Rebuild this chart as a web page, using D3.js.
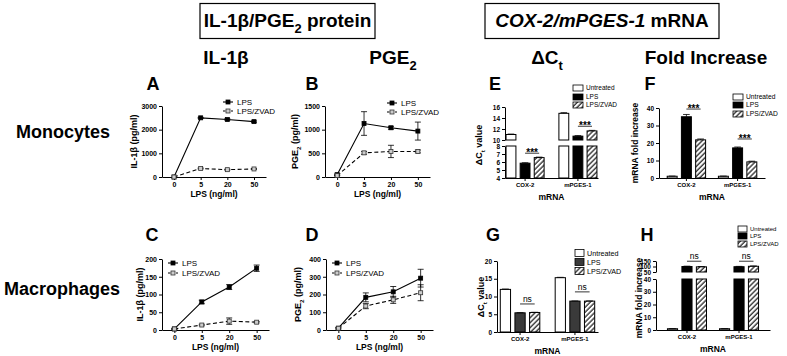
<!DOCTYPE html>
<html>
<head>
<meta charset="utf-8">
<script src="https://cdn.jsdelivr.net/npm/d3@7"></script>
<style>
body { margin: 0; background: #fff; }
text { font-family: Arial, "Liberation Sans", sans-serif; }
</style>
</head>
<body>
<svg id="fig" width="787" height="356"></svg>
<script>
// ---- data ----
var doses = ["0", "5", "20", "50"];
var lineLegend = ["LPS", "LPS/ZVAD"];

var aLps = [0, 2500, 2430, 2340], aLpsErr = [0, 20, 30, 30];
var aZvad = [0, 360, 310, 340], aZvadErr = [0, 20, 20, 20];
var bLps = [50, 1130, 1040, 970], bLpsErr = [10, 250, 30, 190];
var bZvad = [30, 510, 540, 540], bZvadErr = [5, 30, 130, 30];
var cLps = [3, 79, 121, 174], cLpsErr = [2, 5, 7, 9];
var cZvad = [3, 14, 25, 22], cZvadErr = [1, 2, 9, 2];
var dLps = [10, 184, 215, 292], dLpsErr = [5, 25, 30, 50];
var dZvad = [10, 135, 170, 210], dZvadErr = [3, 15, 20, 45];

var genes = ["COX-2", "mPGES-1"];
var treatments = ["Untreated", "LPS", "LPS/ZVAD"];
var eVals = [[11.0, 5.85, 6.55], [14.85, 10.7, 11.65]];
var eErr = [[0.08, 0.06, 0.06], [0.12, 0.1, 0.1]];
var fVals = [[1, 35, 21.8], [1, 17.2, 9.2]];
var fErr = [[0.1, 1.3, 0.5], [0.1, 0.5, 0.4]];
var gVals = [[12.0, 5.4, 5.5], [15.3, 8.7, 8.7]];
var gErr = [[0.1, 0.05, 0.05], [0.1, 0.05, 0.05]];
var hVals = [[1, 100, 97], [1, 98, 102]];
var hErr = [[0.1, 3, 3], [0.1, 3, 3]];

var eSig = [{ gene: "COX-2", y: 7.1, label: "***" }, { gene: "mPGES-1", y: 12.5, label: "***" }];
var fSig = [{ gene: "COX-2", y: 39.4, label: "***" }, { gene: "mPGES-1", y: 22.3, label: "***" }];
var gSig = [{ gene: "COX-2", y: 7.9, label: "ns" }, { gene: "mPGES-1", y: 11.3, label: "ns" }];
var hSig = [{ gene: "COX-2", y: 148, label: "ns" }, { gene: "mPGES-1", y: 148, label: "ns" }];

var svg = d3.select("#fig");
var fmt = d3.format("d");

// hatch for LPS/ZVAD bars
var pat = svg.append("defs").append("pattern")
    .attr("id", "hatch")
    .attr("patternUnits", "userSpaceOnUse")
    .attr("width", 3.5).attr("height", 3.5)
    .attr("patternTransform", "rotate(45)");
pat.append("rect").attr("width", 3.5).attr("height", 3.5).attr("fill", "#fff");
pat.append("line").attr("x1", 1).attr("y1", 0).attr("x2", 1).attr("y2", 3.5)
    .attr("stroke", "#000").attr("stroke-width", 1.1);

// text with subscripts / italics
function rich(t, parts, size) {
    var shift = 0;
    parts.forEach(function (p) {
        var want = p.sub ? size * 0.3 : 0;
        var ts = t.append("tspan").text(p.t).attr("dy", want - shift);
        shift = want;
        if (p.sub) ts.attr("font-size", size * 0.68);
        if (p.it) ts.attr("font-style", "italic");
    });
    return t;
}

function label(x, y, size, weight, anchor) {
    return svg.append("text")
        .attr("x", x).attr("y", y)
        .attr("font-size", size)
        .attr("font-weight", weight || "bold")
        .attr("text-anchor", anchor || "middle");
}

function vLabel(x, y, size, parts) {
    var t = svg.append("text")
        .attr("transform", "translate(" + x + "," + y + ") rotate(-90)")
        .attr("font-size", size).attr("font-weight", "bold")
        .attr("text-anchor", "middle");
    rich(t, parts, size);
}

function styleAxis(g, size) {
    g.attr("font-family", null).attr("font-size", size);
    g.selectAll("text").attr("font-weight", "bold").attr("fill", "#000");
    g.selectAll("path, line").attr("stroke", "#000").attr("stroke-width", 1);
}

// ---- headers ----
svg.append("rect").attr("x", 200).attr("y", 3.5).attr("width", 175).attr("height", 35)
    .attr("fill", "none").attr("stroke", "#000").attr("stroke-width", 1.2);
rich(label(287.5, 27, 19), [{ t: "IL-1β/PGE" }, { t: "2", sub: true }, { t: " protein" }], 19);

svg.append("rect").attr("x", 485).attr("y", 3.5).attr("width", 234).attr("height", 35)
    .attr("fill", "none").attr("stroke", "#000").attr("stroke-width", 1.2);
rich(label(602, 27, 19), [{ t: "COX-2/mPGES-1", it: true }, { t: " mRNA" }], 19);

label(226, 64, 19).text("IL-1β");
rich(label(393, 64, 19), [{ t: "PGE" }, { t: "2", sub: true }], 19);
rich(label(547, 64, 19), [{ t: "ΔC" }, { t: "t", sub: true }], 19);
label(706, 64, 19).text("Fold Increase");

label(63, 138, 18).text("Monocytes");
label(62, 295, 18).text("Macrophages");

[["A", 153, 90], ["B", 312, 90], ["E", 495, 90], ["F", 650, 90],
 ["C", 152, 241], ["D", 312, 241], ["G", 493, 241], ["H", 647, 241]].forEach(function (l) {
    label(l[1], l[2], 18).text(l[0]);
});

// ---- line panels ----
function linePanel(o) {
    var x = d3.scalePoint().domain(doses).range([o.left, o.right]).padding(0.45);
    var y = d3.scaleLinear().domain([0, o.yMax]).range([o.bottom, o.top]);

    svg.append("g").attr("transform", "translate(0," + o.bottom + ")")
        .call(d3.axisBottom(x).tickSize(3).tickPadding(2).tickSizeOuter(0))
        .call(styleAxis, 7);
    svg.append("g").attr("transform", "translate(" + o.left + ",0)")
        .call(d3.axisLeft(y).tickValues(o.ticks).tickFormat(fmt).tickSize(3).tickPadding(2).tickSizeOuter(0))
        .call(styleAxis, 7);

    label((o.left + o.right) / 2, o.bottom + 20, 8.5).text("LPS (ng/ml)");
    vLabel(o.yLabelX, (o.top + o.bottom) / 2, 9, o.yLabel);

    var line = d3.line().x(function (d, i) { return x(doses[i]); }).y(function (d) { return y(d); });

    o.series.forEach(function (s, k) {
        var g = svg.append("g");
        // error bars
        s.vals.forEach(function (v, i) {
            if (!s.errs[i]) return;
            var cx = x(doses[i]), y1 = y(v - s.errs[i]), y2 = y(v + s.errs[i]);
            g.append("line").attr("x1", cx).attr("x2", cx).attr("y1", y1).attr("y2", y2)
                .attr("stroke", "#000").attr("stroke-width", 0.8);
            [y1, y2].forEach(function (yy) {
                g.append("line").attr("x1", cx - 3).attr("x2", cx + 3).attr("y1", yy).attr("y2", yy)
                    .attr("stroke", "#000").attr("stroke-width", 0.8);
            });
        });
        g.append("path").datum(s.vals).attr("d", line)
            .attr("fill", "none").attr("stroke", "#000").attr("stroke-width", 1.1)
            .attr("stroke-dasharray", k ? "4,2.5" : null);
        g.selectAll("rect").data(s.vals).enter().append("rect")
            .attr("x", function (d, i) { return x(doses[i]) - 2; })
            .attr("y", function (d) { return y(d) - 2; })
            .attr("width", 4).attr("height", 4)
            .attr("fill", k ? "#ccc" : "#000")
            .attr("stroke", k ? "#333" : "#000").attr("stroke-width", 0.8);

        // legend row
        var ly = o.legY[k];
        svg.append("line").attr("x1", o.legX).attr("x2", o.legX + 10).attr("y1", ly).attr("y2", ly)
            .attr("stroke", "#000").attr("stroke-width", 1.1).attr("stroke-dasharray", k ? "2.5,1.5" : null);
        svg.append("rect").attr("x", o.legX + 3).attr("y", ly - 2).attr("width", 4).attr("height", 4)
            .attr("fill", k ? "#ccc" : "#000").attr("stroke", k ? "#333" : "#000").attr("stroke-width", 0.8);
        label(o.legX + 14, ly + 3, 8, "normal", "start").text(lineLegend[k]);
    });
}

var il1bLabel = [{ t: "IL-1β (pg/ml)" }];
var pgeLabel = [{ t: "PGE" }, { t: "2", sub: true }, { t: " (pg/ml)" }];

linePanel({ left: 162, right: 266, top: 106, bottom: 177, yMax: 3000, ticks: [0, 1000, 2000, 3000],
    yLabel: il1bLabel, yLabelX: 137, legX: 223, legY: [102, 111],
    series: [{ vals: aLps, errs: aLpsErr }, { vals: aZvad, errs: aZvadErr }] });
linePanel({ left: 325, right: 430, top: 106, bottom: 177, yMax: 1500, ticks: [0, 500, 1000, 1500],
    yLabel: pgeLabel, yLabelX: 298, legX: 387, legY: [103, 112],
    series: [{ vals: bLps, errs: bLpsErr }, { vals: bZvad, errs: bZvadErr }] });
linePanel({ left: 162, right: 269, top: 259, bottom: 330, yMax: 200, ticks: [0, 50, 100, 150, 200],
    yLabel: il1bLabel, yLabelX: 143, legX: 168, legY: [263, 273],
    series: [{ vals: cLps, errs: cLpsErr }, { vals: cZvad, errs: cZvadErr }] });
linePanel({ left: 326, right: 433, top: 259, bottom: 330, yMax: 400, ticks: [0, 100, 200, 300, 400],
    yLabel: pgeLabel, yLabelX: 301, legX: 332, legY: [263, 273],
    series: [{ vals: dLps, errs: dLpsErr }, { vals: dZvad, errs: dZvadErr }] });

// ---- bar panels (optionally with a broken y axis) ----
function barPanel(o) {
    var x0 = d3.scaleBand().domain(genes).range([o.left, o.right])
        .paddingInner(o.padIn).paddingOuter(o.padOut);
    var x1 = d3.scaleBand().domain(treatments).range([0, x0.bandwidth()]).paddingInner(0.3);
    var yLo = d3.scaleLinear().domain(o.lo).range(o.loRange);
    var yHi = o.hi ? d3.scaleLinear().domain(o.hi).range(o.hiRange) : null;
    function yv(v) { return (yHi && v > o.lo[1]) ? yHi(v) : yLo(v); }
    var fills = ["#fff", o.lpsFill, "url(#hatch)"];

    svg.append("g").attr("transform", "translate(0," + o.loRange[0] + ")")
        .call(d3.axisBottom(x0).tickSize(3).tickPadding(2).tickSizeOuter(0))
        .call(styleAxis, 6);
    svg.append("g").attr("transform", "translate(" + o.left + ",0)")
        .call(d3.axisLeft(yLo).tickValues(o.loTicks).tickFormat(fmt).tickSize(3).tickPadding(2).tickSizeOuter(0))
        .call(styleAxis, 6.5);
    if (yHi) {
        svg.append("g").attr("transform", "translate(" + o.left + ",0)")
            .call(d3.axisLeft(yHi).tickValues(o.hiTicks).tickFormat(fmt).tickSize(3).tickPadding(2).tickSizeOuter(0))
            .call(styleAxis, 6.5);
    }

    o.vals.forEach(function (row, i) {
        row.forEach(function (v, j) {
            var bx = x0(genes[i]) + x1(treatments[j]), bw = x1.bandwidth();
            var lowTop = yLo(Math.min(v, o.lo[1]));
            svg.append("rect").attr("x", bx).attr("y", lowTop)
                .attr("width", bw).attr("height", o.loRange[0] - lowTop)
                .attr("fill", fills[j]).attr("stroke", "#000").attr("stroke-width", 1);
            if (yHi && v > o.hi[0]) {
                svg.append("rect").attr("x", bx).attr("y", yHi(v))
                    .attr("width", bw).attr("height", yHi(o.hi[0]) - yHi(v))
                    .attr("fill", fills[j]).attr("stroke", "#000").attr("stroke-width", 1);
            }
            var e = o.errs[i][j], cx = bx + bw / 2, ye = yv(v + e);
            svg.append("line").attr("x1", cx).attr("x2", cx).attr("y1", yv(v)).attr("y2", ye)
                .attr("stroke", "#000").attr("stroke-width", 0.8);
            svg.append("line").attr("x1", cx - bw / 3).attr("x2", cx + bw / 3).attr("y1", ye).attr("y2", ye)
                .attr("stroke", "#000").attr("stroke-width", 0.8);
        });
    });

    o.sig.forEach(function (s) {
        var xa = x0(s.gene) + x1("LPS") + x1.bandwidth() / 2;
        var xb = x0(s.gene) + x1("LPS/ZVAD") + x1.bandwidth() / 2;
        var sy = yv(s.y);
        svg.append("line").attr("x1", xa).attr("x2", xb).attr("y1", sy).attr("y2", sy)
            .attr("stroke", "#000").attr("stroke-width", 0.8);
        if (s.label === "***") {
            label((xa + xb) / 2, sy + 3, 10).text(s.label);
        } else {
            label((xa + xb) / 2, sy - 2, 8.5, "normal").text(s.label);
        }
    });

    treatments.forEach(function (t, j) {
        var ly = o.legY[j];
        svg.append("rect").attr("x", o.legX).attr("y", ly - o.legBox[1] / 2)
            .attr("width", o.legBox[0]).attr("height", o.legBox[1])
            .attr("fill", fills[j]).attr("stroke", "#000").attr("stroke-width", 0.8);
        label(o.legX + o.legBox[0] + 3, ly + o.legFont * 0.35, o.legFont, "normal", "start").text(t);
    });

    label((o.left + o.right) / 2, o.loRange[0] + 22, 8.5).text("mRNA");
    vLabel(o.yLabelX, o.yLabelY, o.yLabelSize, o.yLabel);
}

var dctLabel = [{ t: "ΔC" }, { t: "t", sub: true }, { t: " value" }];
var foldLabel = [{ t: "mRNA fold increase" }];

barPanel({ left: 505, right: 598, padIn: 0.28, padOut: 0.02,
    lo: [4, 8], loRange: [178, 146], hi: [10, 16], hiRange: [140, 107],
    loTicks: [4, 5, 6, 7, 8], hiTicks: [10, 12, 14, 16],
    vals: eVals, errs: eErr, sig: eSig, lpsFill: "#000",
    legX: 573, legY: [88, 97, 105], legBox: [10, 6], legFont: 6.5,
    yLabel: dctLabel, yLabelX: 482, yLabelY: 145, yLabelSize: 9 });
barPanel({ left: 659, right: 765, padIn: 0.25, padOut: 0.16,
    lo: [0, 40], loRange: [178, 108], loTicks: [0, 10, 20, 30, 40],
    vals: fVals, errs: fErr, sig: fSig, lpsFill: "#000",
    legX: 733, legY: [97, 105, 114], legBox: [10, 6], legFont: 6.7,
    yLabel: foldLabel, yLabelX: 638, yLabelY: 143, yLabelSize: 8.5 });
barPanel({ left: 497, right: 598, padIn: 0.28, padOut: 0.06,
    lo: [0, 20], loRange: [332, 261], loTicks: [0, 5, 10, 15, 20],
    vals: gVals, errs: gErr, sig: gSig, lpsFill: "#3a3a3a",
    legX: 575, legY: [253, 262, 271], legBox: [9, 7], legFont: 7.2,
    yLabel: dctLabel, yLabelX: 484, yLabelY: 297, yLabelSize: 9 });
barPanel({ left: 656, right: 770, padIn: 0.25, padOut: 0.22,
    lo: [0, 40], loRange: [330, 279], hi: [50, 150], hiRange: [272, 261],
    loTicks: [0, 10, 20, 30, 40], hiTicks: [50, 100, 150],
    vals: hVals, errs: hErr, sig: hSig, lpsFill: "#000",
    legX: 738, legY: [229, 236, 244], legBox: [9, 6], legFont: 6,
    yLabel: foldLabel, yLabelX: 642, yLabelY: 298, yLabelSize: 8.5 });
</script>
</body>
</html>
